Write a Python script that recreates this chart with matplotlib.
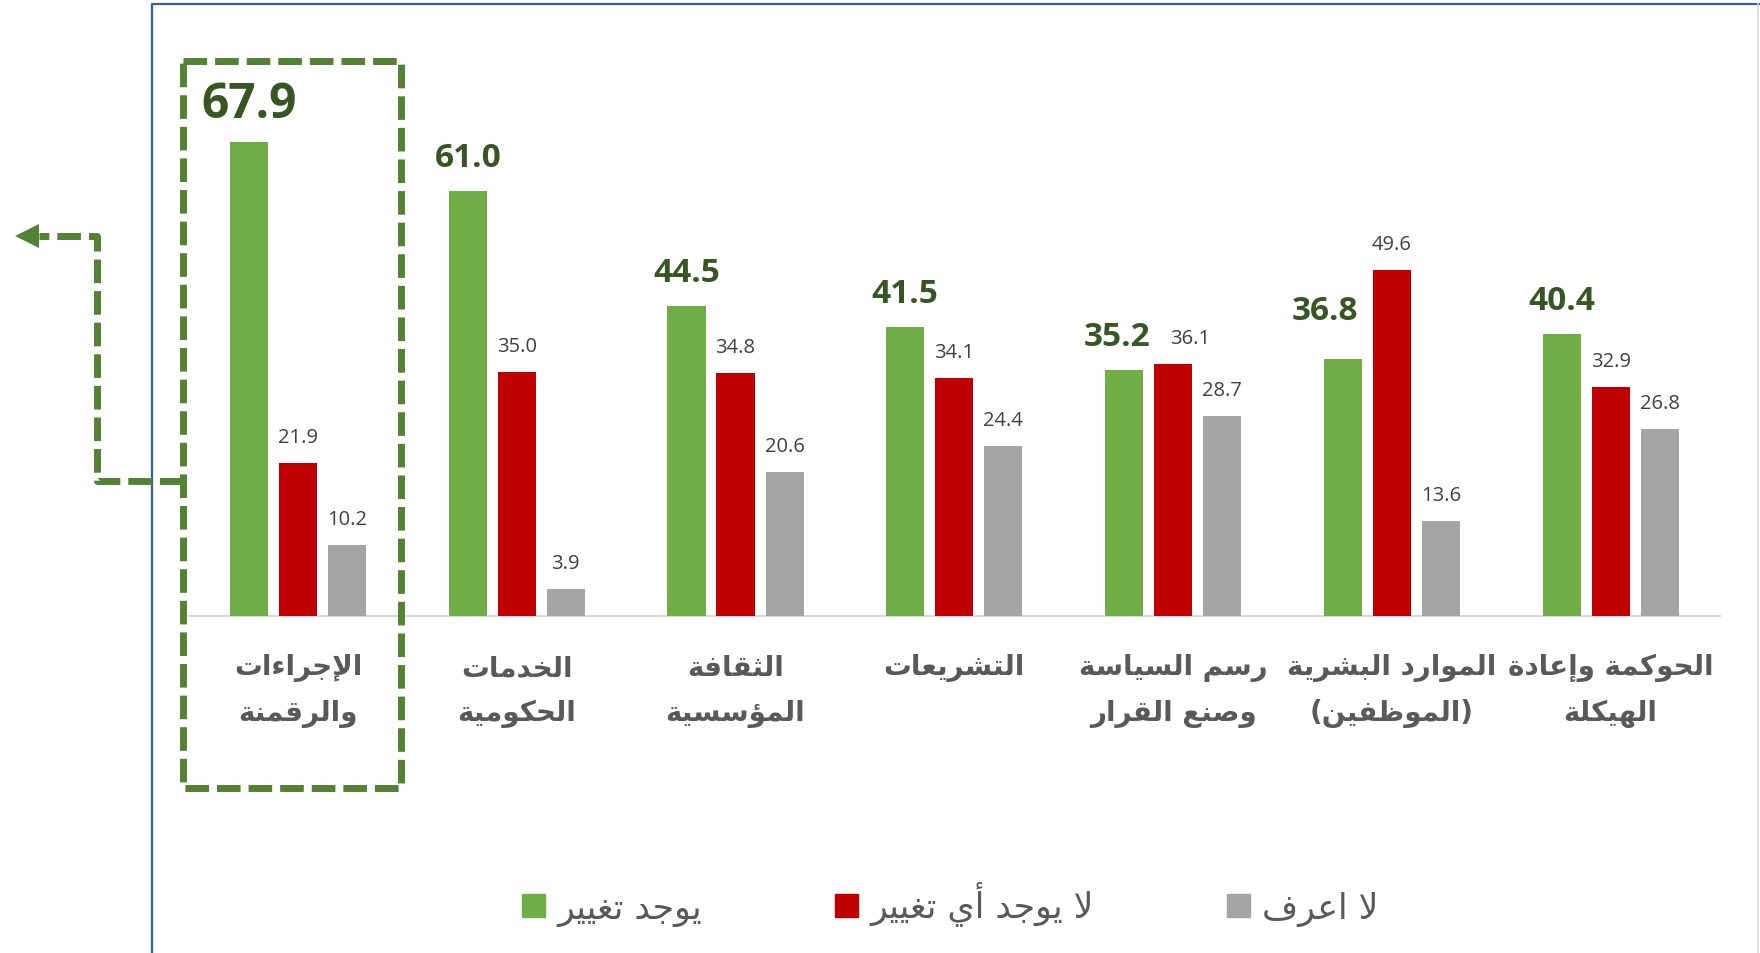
import numpy as np
import matplotlib
matplotlib.use("Agg")
import matplotlib.pyplot as plt
from matplotlib.patches import Polygon, Rectangle, Patch

# ---- data (left to right as in the chart) ----
categories = [
    "الإجراءات\nوالرقمنة",
    "الخدمات\nالحكومية",
    "الثقافة\nالمؤسسية",
    "التشريعات",
    "رسم السياسة\nوصنع القرار",
    "الموارد البشرية\n(الموظفين)",
    "الحوكمة وإعادة\nالهيكلة",
]
change = [67.9, 61.0, 44.5, 41.5, 35.2, 36.8, 40.4]
no_change = [21.9, 35.0, 34.8, 34.1, 36.1, 49.6, 32.9]
dont_know = [10.2, 3.9, 20.6, 24.4, 28.7, 13.6, 26.8]
series_names = ["يوجد تغيير", "لا يوجد أي تغيير", "لا اعرف"]

# hand-placed label nudges (points) as in the original chart
green_nudge = [(0, 0), (0, 0), (0, 0), (0, 0), (-5, 0), (-13, 11), (0, 0)]
red_nudge = [(0, 0), (0, 0), (0, 0), (0, 0), (12, 0), (0, 0), (0, 0)]

GREEN = "#70ad47"
RED = "#c00000"
GRAY = "#a5a5a5"
DARK_GREEN = "#375623"
DASH_GREEN = "#548235"
LABEL_GRAY = "#404040"
TEXT_GRAY = "#595959"

# ---- tiny Arabic shaper (matplotlib has no complex text layout) ----
DUAL = {'ئ': 0xFE89, 'ب': 0xFE8F, 'ت': 0xFE95, 'ث': 0xFE99, 'ج': 0xFE9D,
        'ح': 0xFEA1, 'خ': 0xFEA5, 'س': 0xFEB1, 'ش': 0xFEB5, 'ص': 0xFEB9,
        'ض': 0xFEBD, 'ط': 0xFEC1, 'ظ': 0xFEC5, 'ع': 0xFEC9, 'غ': 0xFECD,
        'ف': 0xFED1, 'ق': 0xFED5, 'ك': 0xFED9, 'ل': 0xFEDD, 'م': 0xFEE1,
        'ن': 0xFEE5, 'ه': 0xFEE9, 'ي': 0xFEF1}
RIGHT = {'آ': 0xFE81, 'أ': 0xFE83, 'ؤ': 0xFE85, 'إ': 0xFE87, 'ا': 0xFE8D,
         'ة': 0xFE93, 'د': 0xFEA9, 'ذ': 0xFEAB, 'ر': 0xFEAD, 'ز': 0xFEAF,
         'و': 0xFEED, 'ى': 0xFEEF}
LAM_ALEF = {'آ': 0xFEF5, 'أ': 0xFEF7, 'إ': 0xFEF9, 'ا': 0xFEFB}
MIRROR = {'(': ')', ')': '('}


def shape_line(text):
    toks = []
    i = 0
    while i < len(text):
        if text[i] == 'ل' and i + 1 < len(text) and text[i + 1] in LAM_ALEF:
            toks.append(text[i:i + 2])
            i += 2
        else:
            toks.append(text[i])
            i += 1

    def joins_next(t):
        return t in DUAL

    def joins_prev(t):
        return t in DUAL or t in RIGHT or len(t) == 2

    out = []
    n = len(toks)
    for i, t in enumerate(toks):
        prev = i > 0 and joins_next(toks[i - 1]) and joins_prev(t)
        nxt = i < n - 1 and joins_next(t) and joins_prev(toks[i + 1])
        if len(t) == 2:
            out.append(chr(LAM_ALEF[t[1]] + (1 if prev else 0)))
        elif t in DUAL:
            off = 3 if (prev and nxt) else 2 if nxt else 1 if prev else 0
            out.append(chr(DUAL[t] + off))
        elif t in RIGHT:
            out.append(chr(RIGHT[t] + (1 if prev else 0)))
        else:
            out.append(t)
    return "".join(MIRROR.get(c, c) for c in reversed(out))


def ar(text):
    return "\n".join(shape_line(line) for line in text.split("\n"))


# ---- figure ----
W, H = 1760, 954
fig = plt.figure(figsize=(W / 100, H / 100), dpi=100)
ax = fig.add_axes([188.6 / W, (H - 617) / H, (1720 - 188.6) / W, 558 / H])

x = np.arange(len(categories))
bw = 0.174
off = 0.224
bars_g = ax.bar(x - off, change, bw, color=GREEN, zorder=3)
bars_r = ax.bar(x, no_change, bw, color=RED, zorder=3)
bars_k = ax.bar(x + off, dont_know, bw, color=GRAY, zorder=3)

ax.set_xlim(-0.5, len(categories) - 0.5)
ax.set_ylim(0, 80)
ax.set_yticks([])
ax.set_xticks([])
for s in ["top", "right", "left"]:
    ax.spines[s].set_visible(False)
ax.spines["bottom"].set_color("#d9d9d9")
ax.spines["bottom"].set_linewidth(1.5)

num_font = ["Open Sans", "DejaVu Sans"]

# value labels
for i, b in enumerate(bars_g):
    dx, dy = green_nudge[i]
    ax.annotate(f"{change[i]:.1f}", (b.get_x() + b.get_width() / 2, b.get_height()),
                xytext=(dx, 18 + dy), textcoords="offset points", ha="center", va="baseline",
                fontsize=34.5 if i == 0 else 24, fontweight="bold", color=DARK_GREEN,
                family=num_font)
for bars, vals, nudge in [(bars_r, no_change, red_nudge),
                          (bars_k, dont_know, [(0, 0)] * len(dont_know))]:
    for b, v, (dx, dy) in zip(bars, vals, nudge):
        ax.annotate(f"{v:.1f}", (b.get_x() + b.get_width() / 2, b.get_height()),
                    xytext=(dx, 15 + dy), textcoords="offset points", ha="center",
                    va="baseline", fontsize=14.5, color=LABEL_GRAY, family=num_font)

# category labels, one text per line (single-line labels sit on the first line)
line_y = [-(668 - 617) / 6.977, -(714 - 617) / 6.977]
for xi, cat in zip(x, categories):
    for k, line in enumerate(cat.split("\n")):
        ax.text(xi, line_y[k], ar(line), ha="center", va="center", fontsize=20,
                fontweight="bold", color=TEXT_GRAY, family=["DejaVu Sans"])

# legend
handles = [Patch(color=c) for c in (GREEN, RED, GRAY)]
fig.legend(handles, [ar(s) for s in series_names], loc="center",
           bbox_to_anchor=(0.54, (H - 905) / H), ncol=3, frameon=False,
           prop={"family": "DejaVu Sans", "size": 25}, labelcolor=TEXT_GRAY,
           handlelength=0.65, handleheight=0.65, handletextpad=0.35, columnspacing=3.85)

# ---- overlay for frame, highlight box and arrow (pixel coords) ----
ov = fig.add_axes([0, 0, 1, 1], facecolor="none", zorder=5)
ov.set_xlim(0, W)
ov.set_ylim(H, 0)
ov.axis("off")

ov.plot([152, 152, W], [H, 5, 5], color="#35608f", lw=1.6, solid_capstyle="butt")
ov.plot([1758, 1758], [5, H], color="#d9d9d9", lw=1.2)

dash = (0, (3.4, 1.15))
ov.add_patch(Rectangle((183, 62), 400.7 - 183, 789.3 - 62, fill=False,
                       edgecolor=DASH_GREEN, lw=5, linestyle=dash))
ov.plot([183, 96.5, 96.5, 39], [482, 482, 237, 237], color=DASH_GREEN, lw=5,
        linestyle=dash, dash_capstyle="butt")
ov.add_patch(Polygon([(15, 237), (39, 225), (39, 249)], closed=True,
                     color=DASH_GREEN, lw=0))

fig.savefig("out.png", dpi=100)
